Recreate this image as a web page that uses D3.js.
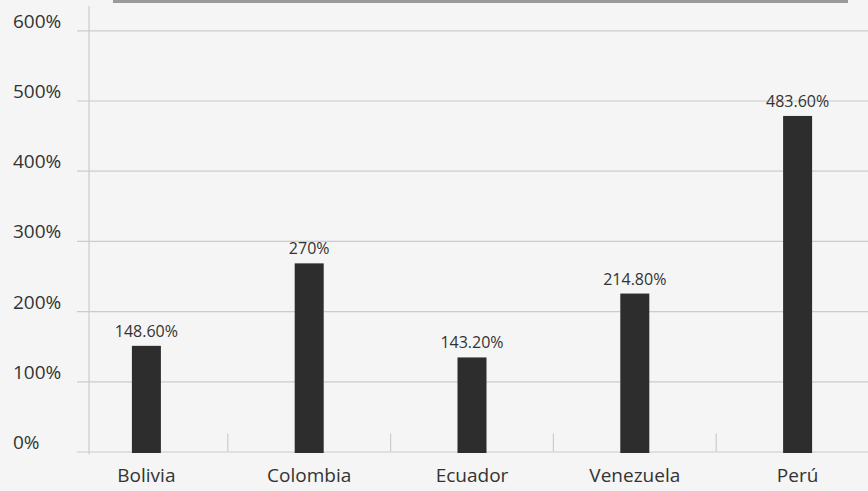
<!DOCTYPE html>
<html>
<head>
<meta charset="utf-8">
<script src="https://cdn.jsdelivr.net/npm/d3@7/dist/d3.min.js"></script>
<style>
  html, body { margin: 0; padding: 0; background: #f5f5f5; }
  svg { display: block; }
  text { font-family: "Open Sans", "Noto Sans", sans-serif; fill: #333; }
</style>
</head>
<body>
<svg id="chart" width="868" height="491"></svg>
<script>
// data
var countries = ['Bolivia', 'Colombia', 'Ecuador', 'Venezuela', 'Perú'];
// bar heights as drawn (in %)
var barValues = [150.5, 268, 134, 225, 478];
// labels printed above the bars
var valueLabels = ['148.60%', '270%', '143.20%', '214.80%', '483.60%'];
var yTicks = [0, 100, 200, 300, 400, 500, 600];

var svg = d3.select('#chart'),
  cs = {
    width: 868,
    height: 491,
    axisX: 89,
    top: 30.3,
    bottom: 451.5,
    barWidth: 29,
    barColor: '#2d2d2d',
    gridColor: '#cccccc'
  };

var y = d3.scaleLinear()
  .domain([0, 600])
  .range([cs.bottom, cs.top]);

var x = d3.scaleBand()
  .domain(countries)
  .range([65, 879])
  .padding(0);

// grey strip at the top (title box remnant)
svg.append('rect')
  .attr('x', 113).attr('y', 0)
  .attr('width', 735).attr('height', 3)
  .attr('fill', '#9a9a9a');

// horizontal gridlines + labels via axis
var yAxis = d3.axisLeft(y)
  .tickValues(yTicks)
  .tickSize(-(cs.width - 77))
  .tickFormat(d => d + '%');

var gy = svg.append('g')
  .attr('transform', 'translate(77,0)')
  .call(yAxis);

gy.select('.domain').remove();
gy.selectAll('.tick line')
  .attr('stroke', cs.gridColor)
  .attr('stroke-width', 1.2);
gy.selectAll('.tick text')
  .attr('x', 13 - 77)
  .attr('y', -3)
  .attr('dy', 0)
  .attr('text-anchor', 'start')
  .style('font-size', '19px')
  .style('fill', '#333');

// vertical axis line
svg.append('line')
  .attr('x1', cs.axisX).attr('x2', cs.axisX)
  .attr('y1', 6).attr('y2', cs.bottom + 3)
  .attr('stroke', cs.gridColor)
  .attr('stroke-width', 1.2);

// category separators (small ticks up from baseline)
svg.append('g')
  .selectAll('line')
  .data(countries.slice(1))
  .join('line')
  .attr('x1', d => x(d)).attr('x2', d => x(d))
  .attr('y1', cs.bottom - 18).attr('y2', cs.bottom)
  .attr('stroke', cs.gridColor)
  .attr('stroke-width', 1.2);

// bars
svg.append('g')
  .selectAll('rect')
  .data(barValues)
  .join('rect')
  .attr('x', (d, i) => x(countries[i]) + x.bandwidth() / 2 - cs.barWidth / 2)
  .attr('y', d => y(d))
  .attr('width', cs.barWidth)
  .attr('height', d => cs.bottom + 1.5 - y(d))
  .attr('fill', cs.barColor);

// value labels
svg.append('g')
  .selectAll('text')
  .data(barValues)
  .join('text')
  .attr('x', (d, i) => x(countries[i]) + x.bandwidth() / 2)
  .attr('y', d => y(d) - 9)
  .attr('text-anchor', 'middle')
  .style('font-size', '16px')
  .text((d, i) => valueLabels[i]);

// category labels
var xAxis = d3.axisBottom(x).tickSize(0).tickPadding(0);
var gx = svg.append('g')
  .attr('transform', 'translate(0,' + cs.bottom + ')')
  .call(xAxis);
gx.select('.domain').remove();
gx.selectAll('.tick text')
  .attr('y', 30)
  .attr('dy', 0)
  .style('font-size', '19px')
  .style('fill', '#333');
</script>
</body>
</html>
